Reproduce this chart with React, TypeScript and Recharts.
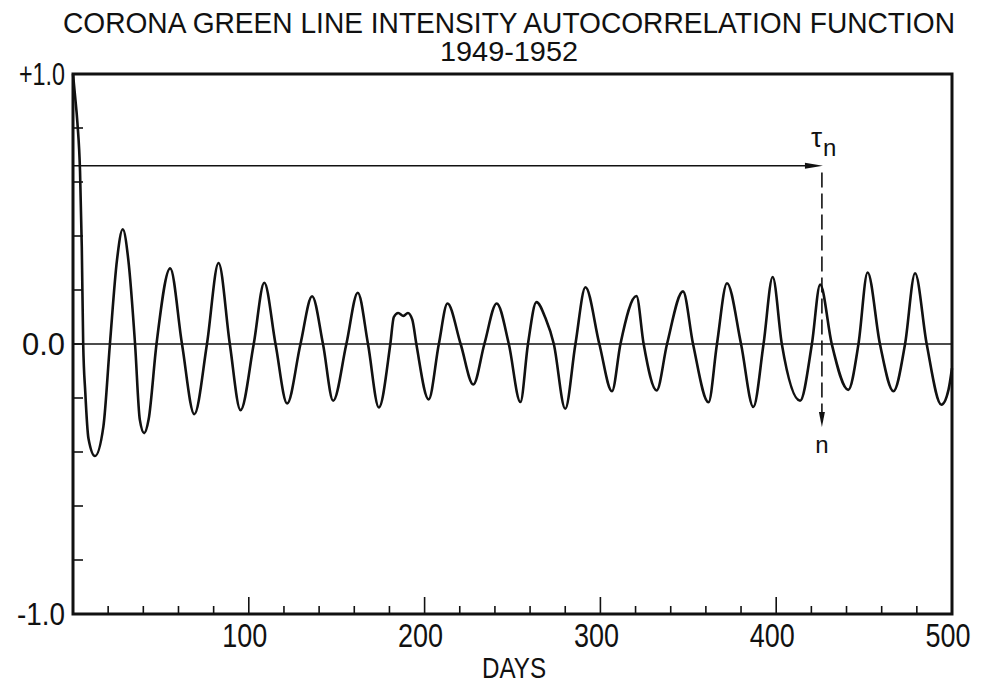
import React from 'react';
import { LineChart, Line, XAxis, YAxis, ReferenceLine, ReferenceArea, ReferenceDot } from 'recharts';

// ---- data ----
const days = [
  0, 1, 2.5, 4, 5, 5.8, 7, 8.8, 12.5, 17.3, 21, 25, 28.3, 31.5, 35.3, 38, 40.5, 43, 47.5,
  55.3, 62, 69, 76.2, 82.8, 89.2, 95.3, 102.8, 108.8, 115.2, 121.8, 129.4, 136, 142.2, 148,
  155.5, 162, 167.8, 174, 180.5, 182.5, 185, 188, 190.5, 193, 195.3, 202.3, 208.1, 213,
  220.5, 227.7, 234, 241, 247.9, 254.5, 258.8, 263.6, 268.8, 273.5, 280, 285.8, 291.5,
  299.4, 306.6, 311.4, 320.5, 324.6, 332, 337.9, 347, 352.7, 361.5, 366.3, 372, 380, 387,
  392.8, 398, 403.2, 413.6, 420.3, 425, 431.6, 441, 446.8, 452, 459, 466.7, 473.3, 479,
  485.6, 494, 498, 500,
];
const acf = [
  1.0, 0.93, 0.82, 0.64, 0.36, 0.0, -0.18, -0.35, -0.415, -0.305, 0.0, 0.31, 0.425, 0.31, 0.0, -0.28, -0.33, -0.28, 0.0,
  0.28, 0.0, -0.26, 0.0, 0.3, 0.0, -0.245, 0.0, 0.227, 0.0, -0.22, 0.0, 0.177, 0.0, -0.21,
  0.0, 0.19, 0.0, -0.235, 0.0, 0.1, 0.115, 0.104, 0.115, 0.09, 0.0, -0.205, 0.0, 0.15,
  0.0, -0.15, 0.0, 0.15, 0.0, -0.215, 0.0, 0.155, 0.095, 0.0, -0.24, 0.0, 0.21,
  0.0, -0.175, 0.0, 0.178, 0.0, -0.172, 0.0, 0.195, 0.0, -0.216, 0.0, 0.225, 0.0, -0.233,
  0.0, 0.248, 0.0, -0.21, 0.0, 0.22, 0.0, -0.17, 0.0, 0.265, 0.0, -0.175, 0.0, 0.262,
  0.0, -0.225, -0.17, -0.09,
];

const xTicks = [0, 20, 40, 60, 80, 100, 120, 140, 160, 180, 200, 220, 240, 260, 280, 300, 320, 340, 360, 380, 400, 420, 440, 460, 480, 500];
const xLabels = [100, 200, 300, 400, 500];
const yTicks = [-1, -0.8, -0.6, -0.4, -0.2, 0, 0.2, 0.4, 0.6, 0.8, 1];
const yLabelValues = [-1, 0, 1];
const yLabelTexts = ['-1.0', '0.0', '+1.0'];
const yLabelWidths = [48, 43, 46];

const lagDay = 426;
const lagLevel = 0.66;
const lagArrowEnd = -0.307;

const title = 'CORONA GREEN LINE INTENSITY AUTOCORRELATION FUNCTION';
const subtitle = '1949-1952';
const xTitle = 'DAYS';

const data = days.map((d, i) => ({ day: d, acf: acf[i] }));

const INK = '#111';
const FONT = '"Liberation Sans", Arial, sans-serif';

const XTick = (props: any) => {
  const { x, y, payload } = props;
  const v = payload.value;
  const major = v % 100 === 0;
  const len = major ? 17 : 8;
  const showLabel = xLabels.includes(v);
  return (
    <g>
      {v > 0 && v < 500 && <line x1={x} x2={x} y1={y} y2={y - len} stroke={INK} strokeWidth={1.6} />}
      {showLabel && (
        <text x={x - 4} y={y + 33} textAnchor="middle" fontSize={33} fontFamily={FONT} fill={INK}
          textLength={45} lengthAdjust="spacingAndGlyphs">{v}</text>
      )}
    </g>
  );
};

const YTick = (props: any) => {
  const { x, y, payload } = props;
  const v = payload.value;
  const idx = yLabelValues.findIndex((t) => Math.abs(t - v) < 1e-9);
  return (
    <g>
      {Math.abs(v) < 0.99 && <line x1={x} x2={x + 10} y1={y} y2={y} stroke={INK} strokeWidth={1.6} />}
      {idx >= 0 && (
        <text x={x - 8} y={y} dy="0.36em" textAnchor="end" fontSize={31} fontFamily={FONT} fill={INK}
          textLength={yLabelWidths[idx]} lengthAdjust="spacingAndGlyphs">{yLabelTexts[idx]}</text>
      )}
    </g>
  );
};

const RightArrowHead = (props: any) => {
  const { cx, cy } = props;
  return (
    <g>
      <path d={`M ${cx + 1} ${cy} L ${cx - 17} ${cy - 3} L ${cx - 17} ${cy + 3} Z`} fill={INK} />
      <text x={cx - 11} y={cy - 19} fontSize={28} fontFamily={FONT} fill={INK}>τ</text>
      <text x={cx + 1} y={cy - 10} fontSize={24} fontFamily={FONT} fill={INK}>n</text>
    </g>
  );
};

const DownArrowHead = (props: any) => {
  const { cx, cy } = props;
  return (
    <g>
      <path d={`M ${cx} ${cy} L ${cx - 3} ${cy - 15} L ${cx + 3} ${cy - 15} Z`} fill={INK} />
      <text x={cx} y={cy + 26} textAnchor="middle" fontSize={24} fontFamily={FONT} fill={INK}>n</text>
    </g>
  );
};

export default function App() {
  return (
    <div style={{ position: 'absolute', left: 0, top: 0, width: 984, height: 692, background: '#fff' }}>
      <LineChart width={984} height={692} data={data} margin={{ top: 74, right: 32, bottom: 0, left: 0 }}>
        <XAxis type="number" dataKey="day" domain={[0, 500]} ticks={xTicks} interval={0}
          height={78} tickSize={0} tickMargin={0} axisLine={false} tickLine={false} tick={XTick} />
        <YAxis type="number" domain={[-1, 1]} ticks={yTicks} interval={0}
          width={73} tickSize={0} tickMargin={0} axisLine={false} tickLine={false} tick={YTick} />
        <ReferenceArea x1={0} x2={500} y1={-1} y2={1} fill="none" fillOpacity={0} stroke={INK} strokeWidth={3} />
        <ReferenceLine y={0} stroke={INK} strokeWidth={1.6} />
        <ReferenceLine segment={[{ x: 0, y: lagLevel }, { x: lagDay - 8, y: lagLevel }]} stroke={INK} strokeWidth={1.6} />
        <ReferenceLine segment={[{ x: lagDay, y: lagLevel - 0.025 }, { x: lagDay, y: lagArrowEnd + 0.04 }]}
          stroke={INK} strokeWidth={1.6} strokeDasharray="15 6" />
        <ReferenceDot x={lagDay} y={lagLevel} r={0} shape={RightArrowHead} />
        <ReferenceDot x={lagDay} y={lagArrowEnd} r={0} shape={DownArrowHead} />
        <Line type="monotone" dataKey="acf" stroke={INK} strokeWidth={2.6} dot={false} isAnimationActive={false} />
      </LineChart>
      <svg width={984} height={692} style={{ position: 'absolute', left: 0, top: 0, pointerEvents: 'none' }}>
        <text x={509} y={33} textAnchor="middle" fontSize={29} fontFamily={FONT} fill={INK}
          textLength={892} lengthAdjust="spacingAndGlyphs">{title}</text>
        <text x={509} y={61} textAnchor="middle" fontSize={28} fontFamily={FONT} fill={INK}
          textLength={138} lengthAdjust="spacingAndGlyphs">{subtitle}</text>
        <text x={514} y={678} textAnchor="middle" fontSize={30} fontFamily={FONT} fill={INK}
          textLength={64} lengthAdjust="spacingAndGlyphs">{xTitle}</text>
      </svg>
    </div>
  );
}
